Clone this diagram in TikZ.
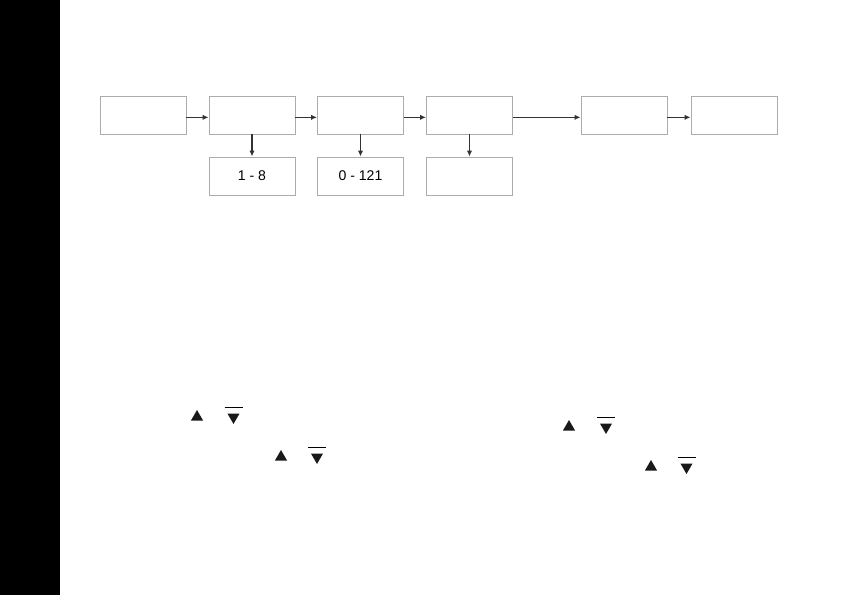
\documentclass[tikz,border=0pt]{standalone}
\usepackage{fontspec}
\setmainfont{Liberation Sans}
\usetikzlibrary{shapes.geometric,arrows.meta,positioning}

\tikzset{
    box/.style={draw=gray!65, line width=0.8pt, minimum width=2.58cm, minimum height=1.14cm,
                inner sep=0pt, font=\fontsize{12}{14}\selectfont},
    link/.style={-{Latex[length=5pt,width=4.5pt]}, draw=black!80, line width=1pt},
    up/.style={regular polygon, regular polygon sides=3, fill=black!90, minimum size=0.42cm, inner sep=0pt},
    down/.style={up, shape border rotate=180}
}

\begin{document}
\begin{tikzpicture}[x=0.03cm, y=-0.03cm]
    \useasboundingbox (0,0) rectangle (841,595);
    % Left bar
    \fill[black] (0,0) rectangle (60,595);

    % Top row
    \foreach \i/\x in {1/143,2/252,3/360.5,4/469.5,5/624,6/734} {
        \node[box] (top\i) at (\x,115) {};
    }

    % Bottom row
    \foreach \i/\v in {2/1 - 8, 3/0 - 121, 4/{}} {
        \node[box] (bot\i) at (top\i |- 0,176) {\v};
    }

    % Arrows
    \foreach \i/\j in {1/2,2/3,3/4,4/5,5/6} {
        \draw[link] ([yshift=-2]top\i.east) -- ([yshift=-2]top\j.west);
    }
    \foreach \i in {2,3,4} {
        \draw[link] (top\i.south) -- (bot\i.north);
    }

    % Keys
    \foreach \n/\x/\y in {a/197/417, b/281/457, c/569/427, d/651/467} {
        \node[up] (up\n) at (\x,\y) {};
    }
    \foreach \n/\x/\y in {a/233.5/417, b/317/457, c/606/427, d/686.5/467} {
        \node[down] (dn\n) at (\x,\y) {};
        \draw[line width=0.7pt] ([shift={(-9,-10)}]dn\n.center) -- ++(18,0);
    }
\end{tikzpicture}
\end{document}
